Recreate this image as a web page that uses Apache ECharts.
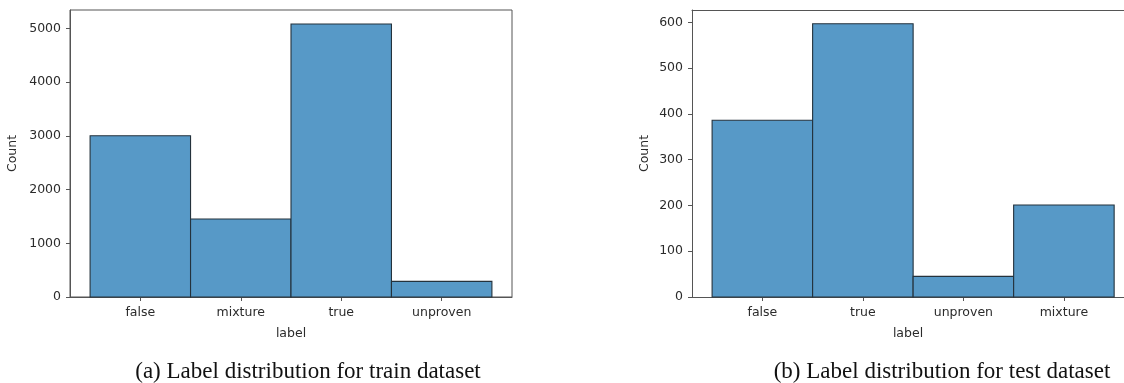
<!DOCTYPE html>
<html>
<head>
<meta charset="utf-8">
<script src="https://cdn.jsdelivr.net/npm/echarts@6/dist/echarts.min.js"></script>
<style>
html,body{margin:0;padding:0;background:#fff;}
#c{width:1124px;height:383px;}
</style>
</head>
<body>
<div id="c"></div>
<script>
// Data
const trainCategories = ['false', 'mixture', 'true', 'unproven'];
const trainCounts = [3000, 1450, 5080, 290];
const testCategories = ['false', 'true', 'unproven', 'mixture'];
const testCounts = [386, 597, 45, 201];
const trainYTicks = [0, 1000, 2000, 3000, 4000, 5000];
const testYTicks = [0, 100, 200, 300, 400, 500, 600];
const captionA = '(a) Label distribution for train dataset';
const captionB = '(b) Label distribution for test dataset';

const chart = echarts.init(document.getElementById('c'), null, {renderer: 'canvas'});

const FILL = '#5799c7';
const EDGE = '#24323c';
const SPINE = '#555555';
const TXT = '#2b2b2b';
const FONT = 'DejaVu Sans';
const FS = 12.5;

function xAxisFor(idx, cats, max) {
  const pos = cats.map((_, i) => i);
  return {
    gridIndex: idx, type: 'value', min: -0.7, max: max,
    name: 'label', nameLocation: 'middle', nameGap: 30,
    nameTextStyle: {fontFamily: FONT, fontSize: FS, color: TXT},
    axisLine: {show: true, onZero: false, lineStyle: {color: SPINE, width: 1}},
    axisTick: {show: true, length: 4, lineStyle: {color: SPINE}, customValues: pos},
    axisLabel: {show: true, margin: 9, fontFamily: FONT, fontSize: FS, color: TXT,
      customValues: pos, formatter: v => cats[Math.round(v)]},
    splitLine: {show: false}
  };
}
function topSpine(idx, max) {
  return {
    gridIndex: idx, type: 'value', position: 'top', min: -0.7, max: max,
    axisLine: {show: true, onZero: false, lineStyle: {color: SPINE, width: 1}},
    axisTick: {show: false}, axisLabel: {show: false}, splitLine: {show: false}
  };
}
function yAxisFor(idx, max, ticks, gap) {
  return {
    gridIndex: idx, type: 'value', min: 0, max: max,
    name: 'Count', nameLocation: 'middle', nameGap: gap, nameRotate: 90,
    nameTextStyle: {fontFamily: FONT, fontSize: FS, color: TXT},
    axisLine: {show: true, onZero: false, lineStyle: {color: SPINE, width: 1}},
    axisTick: {show: true, length: 4, lineStyle: {color: SPINE}, customValues: ticks},
    axisLabel: {show: true, margin: 9, fontFamily: FONT, fontSize: FS, color: TXT,
      customValues: ticks, formatter: v => String(v)},
    splitLine: {show: false}
  };
}
function renderBar(params, api) {
  const x = api.value(0), y = api.value(1);
  const p0 = api.coord([x - 0.5, y]);
  const p1 = api.coord([x + 0.5, 0]);
  return {
    type: 'rect',
    shape: {x: p0[0], y: p0[1], width: p1[0] - p0[0], height: p1[1] - p0[1]},
    style: {fill: FILL, stroke: EDGE, lineWidth: 1.1}
  };
}

chart.setOption({
  animation: false,
  backgroundColor: '#ffffff',
  grid: [
    {left: 70, top: 10, width: 442, height: 287, show: true, borderColor: SPINE, borderWidth: 1, backgroundColor: 'transparent'},
    {left: 692, top: 10, width: 432, height: 287, show: false}
  ],
  xAxis: [xAxisFor(0, trainCategories, 3.7), xAxisFor(1, testCategories, 3.598), topSpine(1, 3.598)],
  yAxis: [yAxisFor(0, 5340, trainYTicks, 51), yAxisFor(1, 627, testYTicks, 41)],
  series: [
    {type: 'custom', xAxisIndex: 0, yAxisIndex: 0, renderItem: renderBar,
     data: trainCounts.map((v, i) => [i, v])},
    {type: 'custom', xAxisIndex: 1, yAxisIndex: 1, renderItem: renderBar,
     data: testCounts.map((v, i) => [i, v])}
  ],
  graphic: [
    {type: 'text', x: 308, y: 372, style: {text: captionA,
      font: '23px "Liberation Serif"', fill: '#111', textAlign: 'center', textVerticalAlign: 'middle'}},
    {type: 'text', x: 942, y: 372, style: {text: captionB,
      font: '23px "Liberation Serif"', fill: '#111', textAlign: 'center', textVerticalAlign: 'middle'}}
  ]
});
</script>
</body>
</html>
